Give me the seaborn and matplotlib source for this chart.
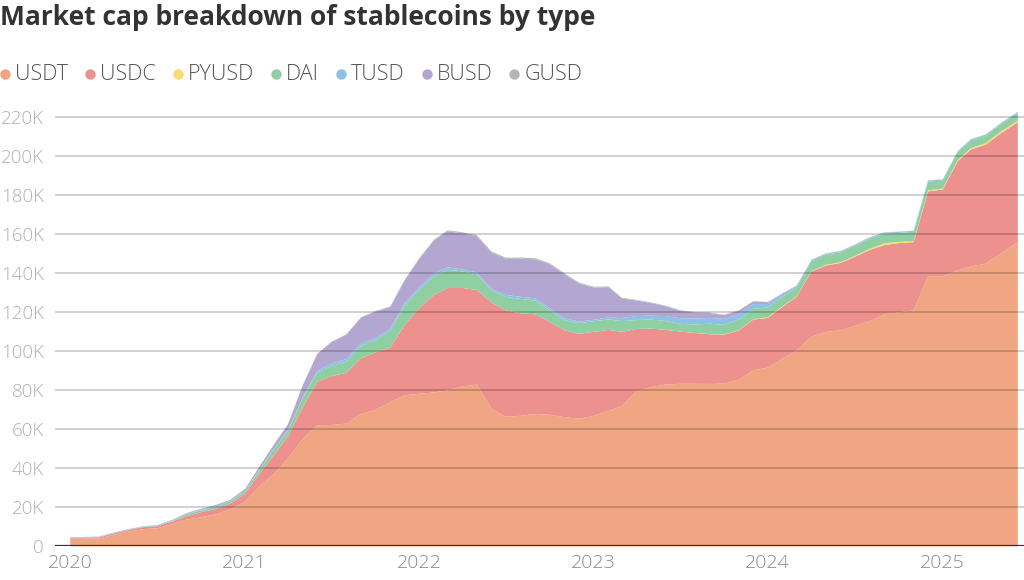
import pandas as pd
import numpy as np
import seaborn as sns
import matplotlib
matplotlib.use("Agg")
import matplotlib.pyplot as plt
from matplotlib.lines import Line2D
from matplotlib.ticker import FuncFormatter

# monthly snapshots, values in K (millions of USD)
dates = list(pd.date_range("2020-01-01", "2025-06-01", freq="MS")) + [pd.Timestamp("2025-06-07")]

names = ["USDT", "USDC", "PYUSD", "DAI", "TUSD", "BUSD", "GUSD"]
colors = ["#F0A682", "#EC918E", "#F6DC72", "#90CFA2", "#8EC1E6", "#B3A6D1", "#B5B5B5"]

usdt = [4.0, 4.0, 4.1, 6.0, 7.6, 8.9, 9.3, 11.5, 13.8, 15.0, 16.5, 19.0,
        23.0, 31.0, 37.0, 45.0, 55.0, 62.0, 62.3, 63.0, 68.0, 70.0, 74.0, 77.5,
        78.3, 79.0, 80.0, 82.0, 83.0, 70.5, 66.5, 67.0, 68.0, 67.5, 66.3, 65.5,
        67.0, 69.5, 72.0, 79.5, 81.7, 83.0, 83.4, 83.4, 83.3, 83.5, 85.5, 90.3,
        91.7, 96.5, 100.5, 107.5, 110.0, 110.8, 113.0, 115.5, 119.0, 120.0, 121.0, 138.5,
        138.5, 141.5, 143.5, 145.0, 150.0, 155.0, 156.0]
usdc = [0.45, 0.5, 0.55, 0.7, 0.8, 1.0, 1.1, 1.2, 1.8, 2.6, 2.8, 3.0,
        4.0, 6.5, 9.5, 11.5, 16.0, 22.5, 25.0, 26.0, 28.5, 29.5, 28.0, 36.0,
        44.0, 50.0, 52.5, 50.5, 48.5, 54.5, 54.5, 52.5, 51.0, 47.5, 44.5, 43.5,
        43.0, 41.5, 38.0, 32.0, 30.0, 28.0, 26.8, 26.0, 25.5, 25.0, 25.3, 26.0,
        25.5, 26.5, 27.5, 33.5, 34.0, 34.5, 35.5, 36.5, 35.5, 35.5, 35.0, 43.5,
        44.5, 56.0, 60.0, 61.0, 61.5, 61.5, 61.6]
pyusd = [0.0] * 36 + \
        [0, 0, 0, 0, 0, 0, 0, 0.03, 0.05, 0.1, 0.15, 0.2,
         0.3, 0.3, 0.2, 0.2, 0.35, 0.4, 0.45, 0.6, 0.9, 0.7, 0.5, 0.5,
         0.5, 0.6, 0.7, 0.8, 0.9, 0.9, 0.9]
dai = [0.06, 0.08, 0.1, 0.11, 0.12, 0.13, 0.2, 0.4, 0.9, 0.9, 1.0, 1.1,
       1.3, 2.0, 2.9, 3.0, 4.6, 4.6, 5.2, 5.7, 6.3, 6.2, 8.5, 10.0,
       9.4, 9.6, 9.4, 8.5, 8.0, 6.2, 6.9, 7.4, 7.0, 6.0, 5.2, 5.5,
       5.4, 5.4, 5.5, 4.6, 4.6, 4.6, 3.9, 4.4, 5.3, 5.0, 5.4, 5.3,
       5.0, 4.8, 4.5, 5.0, 5.2, 5.1, 5.2, 5.3, 5.0, 4.5, 4.8, 4.5,
       4.1, 3.9, 4.0, 3.8, 3.8, 3.8, 3.8]
tusd = [0.13, 0.14, 0.15, 0.16, 0.16, 0.17, 0.2, 0.3, 0.35, 0.4, 0.4, 0.35,
        0.3, 0.33, 0.35, 0.35, 0.5, 1.0, 1.3, 1.4, 1.3, 1.2, 1.3, 1.3,
        1.3, 1.4, 1.2, 1.0, 1.0, 0.9, 1.0, 1.1, 1.2, 1.1, 1.0, 0.8,
        0.8, 1.0, 1.6, 2.0, 2.0, 2.5, 2.9, 3.0, 3.0, 3.0, 2.8, 2.5,
        1.8, 1.2, 0.8, 0.6, 0.5, 0.5, 0.5, 0.5, 0.5, 0.5, 0.5, 0.5,
        0.5, 0.5, 0.5, 0.5, 0.5, 0.5, 0.5]
busd = [0.15, 0.17, 0.18, 0.18, 0.17, 0.16, 0.17, 0.2, 0.3, 0.4, 0.6, 0.5,
        0.9, 1.4, 1.9, 2.8, 6.0, 8.5, 11.0, 12.5, 13.3, 13.5, 11.0, 11.5,
        14.5, 17.0, 18.5, 18.5, 18.5, 18.5, 18.5, 19.5, 20.0, 22.5, 22.5, 19.5,
        16.5, 15.5, 10.0, 8.0, 6.5, 5.0, 3.8, 3.0, 2.5, 2.0, 1.7, 1.3,
        0.9, 0.5, 0.2, 0.1, 0.08, 0.07, 0.07, 0.06, 0.06, 0.06, 0.06, 0.06,
        0.06, 0.06, 0.06, 0.06, 0.06, 0.06, 0.06]
gusd = [0.01, 0.01, 0.01, 0.01, 0.01, 0.01, 0.01, 0.02, 0.03, 0.03, 0.05, 0.05,
        0.08, 0.1, 0.15, 0.15, 0.15, 0.15, 0.15, 0.15, 0.2, 0.25, 0.3, 0.35,
        0.4, 0.4, 0.45, 0.55, 0.6, 0.6, 0.6, 0.6, 0.55, 0.5, 0.5, 0.5,
        0.45, 0.4, 0.35, 0.3, 0.3, 0.3, 0.3, 0.3, 0.25, 0.2, 0.2, 0.15,
        0.15, 0.15, 0.1, 0.1, 0.1, 0.1, 0.1, 0.1, 0.1, 0.1, 0.1, 0.1,
        0.08, 0.08, 0.07, 0.07, 0.07, 0.07, 0.07]

y_ticks = list(range(0, 221, 20))
years = [2020, 2021, 2022, 2023, 2024, 2025]

sns.set_theme(style="white")
plt.rcParams['font.family'] = ['Open Sans', 'DejaVu Sans']

W, H = 1024, 580
fig = plt.figure(figsize=(W / 100, H / 100), dpi=100)
ax = fig.add_axes([55 / W, 34 / H, (W - 55) / W, (546 - 107) / H])

ax.stackplot(dates, usdt, usdc, pyusd, dai, tusd, busd, gusd,
             colors=colors, labels=names, linewidth=0)

ax.set_xlim(pd.Timestamp("2019-12-01"), pd.Timestamp("2025-06-21"))
ax.set_ylim(0, 225)
ax.set_yticks(y_ticks)
ax.yaxis.set_major_formatter(FuncFormatter(lambda v, p: "0" if v == 0 else f"{v:.0f}K"))
ax.set_xticks([pd.Timestamp(f"{y}-01-01") for y in years])
ax.set_xticklabels([str(y) for y in years])

# gridlines drawn over the areas
ax.set_axisbelow(False)
ax.grid(axis="y", color="black", alpha=0.2, lw=1.3)
ax.grid(axis="x", visible=False)
ax.axhline(0, color="#333333", lw=1.6, zorder=5)
sns.despine(ax=ax, left=True, bottom=True)

ax.tick_params(axis="y", length=0, pad=8, labelsize=13.5, labelcolor="#B0B0B0")
ax.tick_params(axis="x", length=0, pad=6, labelsize=14, labelcolor="#8A8A8A")
for lab in ax.get_xticklabels() + ax.get_yticklabels():
    lab.set_fontweight("light")

fig.text(0.0, 1 - 25 / H, "Market cap breakdown of stablecoins by type",
         fontsize=19, fontweight="bold", color="#333333", va="baseline", ha="left")

# legend row: dot + label, laid out left to right
fig.canvas.draw()
renderer = fig.canvas.get_renderer()
x = 5
y = 1 - 74 / H
for name, c in zip(names, colors):
    fig.add_artist(Line2D([x / W], [y], marker="o", ls="", color=c, markersize=7.5,
                          markeredgewidth=0, transform=fig.transFigure))
    t = fig.text((x + 10) / W, y, name, fontsize=15.5, fontweight="light",
                 color="#555555", va="center", ha="left")
    x = x + 10 + t.get_window_extent(renderer).width + 22

fig.savefig("out.png", dpi=100)
